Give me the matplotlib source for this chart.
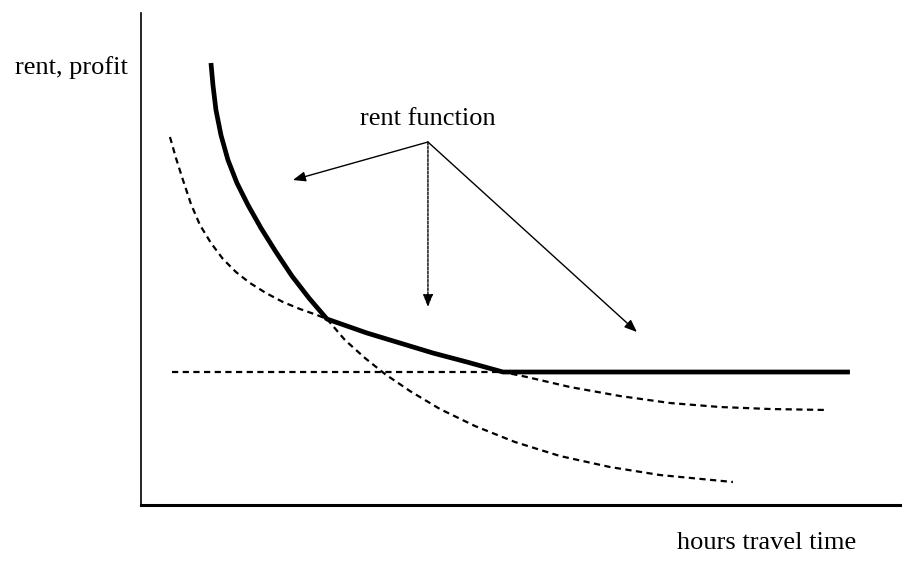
'''
Rent / profit against hours of travel time: three bid-rent curves and their
upper envelope (the rent function).
'''

import matplotlib
matplotlib.use('Agg')
import matplotlib.pyplot as plt

# steep curve (near activity), continues dashed below the kink
steep_x = [0.70, 0.72, 0.75, 0.80, 0.87, 0.96, 1.07, 1.20, 1.35, 1.51, 1.68,
           1.86, 2.04, 2.24, 2.44, 2.69, 2.99, 3.34, 3.74, 4.19, 4.69, 5.19, 5.92]
steep_y = [4.42, 4.20, 3.95, 3.70, 3.45, 3.22, 3.00, 2.77, 2.53, 2.29, 2.07,
           1.86, 1.65, 1.47, 1.31, 1.14, 0.96, 0.79, 0.63, 0.49, 0.38, 0.30, 0.23]

# flatter curve
mid_x = [0.29, 0.35, 0.42, 0.50, 0.59, 0.70, 0.82, 0.95, 1.09, 1.25, 1.42,
         1.59, 1.76, 1.86, 2.26, 2.59, 2.92, 3.26, 3.62, 3.86, 4.29, 4.79,
         5.29, 5.79, 6.29, 6.87]
mid_y = [3.68, 3.47, 3.25, 3.01, 2.80, 2.62, 2.46, 2.33, 2.22, 2.12, 2.03,
         1.96, 1.90, 1.86, 1.72, 1.62, 1.52, 1.43, 1.33, 1.28, 1.18, 1.09,
         1.02, 0.98, 0.96, 0.95]

# constant level
flat_x = [0.31, 3.62, 7.09]
flat_y = [1.33, 1.33, 1.33]

KINK = 11     # index of the kink in steep_*
MID_KINK = 13  # same point in mid_*
MID_END = 18   # where mid meets the flat line

labels = ['rent, profit', 'hours travel time', 'rent function']


def main():
    fig = plt.figure(figsize=(9.03, 5.63), dpi=100)
    ax = fig.add_axes([0.1561, 0.103, 0.8427, 0.8739])
    ax.set_xlim(0, 7.61)
    ax.set_ylim(0, 4.92)

    dash = dict(color='black', lw=1.6, linestyle=(0, (2.8, 2.0)))
    ax.plot(steep_x[KINK:], steep_y[KINK:], **dash)
    ax.plot(mid_x, mid_y, **dash)
    ax.plot(flat_x[:2], flat_y[:2], **dash)

    # upper envelope = rent function
    env_x = steep_x[:KINK + 1] + mid_x[MID_KINK + 1:MID_END + 1] + flat_x[2:]
    env_y = steep_y[:KINK + 1] + mid_y[MID_KINK + 1:MID_END + 1] + flat_y[2:]
    ax.plot(env_x, env_y, color='black', lw=3.4, solid_capstyle='butt',
            solid_joinstyle='round')

    # axes: only left and bottom lines, no ticks
    for s in ['top', 'right']:
        ax.spines[s].set_visible(False)
    ax.spines['left'].set_linewidth(1.2)
    ax.spines['bottom'].set_linewidth(2.2)
    ax.set_xticks([])
    ax.set_yticks([])

    font = dict(family='Liberation Serif', fontsize=19, color='black')
    ax.text(-0.70, 4.37, labels[0], ha='center', va='center', clip_on=False, **font)
    ax.text(6.26, -0.38, labels[1], ha='center', va='center', clip_on=False, **font)
    ax.text(2.87, 3.86, labels[2], ha='center', va='center', **font)

    # arrows from the label to the three pieces of the envelope
    apex = (2.87, 3.63)
    tips = [(1.52, 3.25), (2.87, 1.98), (4.96, 1.73)]
    for i, tip in enumerate(tips):
        ls = (0, (2, 1)) if i == 1 else '-'
        ax.annotate('', xy=tip, xytext=apex,
                    arrowprops=dict(arrowstyle='-|>,head_length=0.5,head_width=0.2',
                                    mutation_scale=15, lw=1.0, color='black',
                                    linestyle=ls, shrinkA=0, shrinkB=0))

    fig.savefig('out.png', dpi=100)


if __name__ == '__main__':
    main()
